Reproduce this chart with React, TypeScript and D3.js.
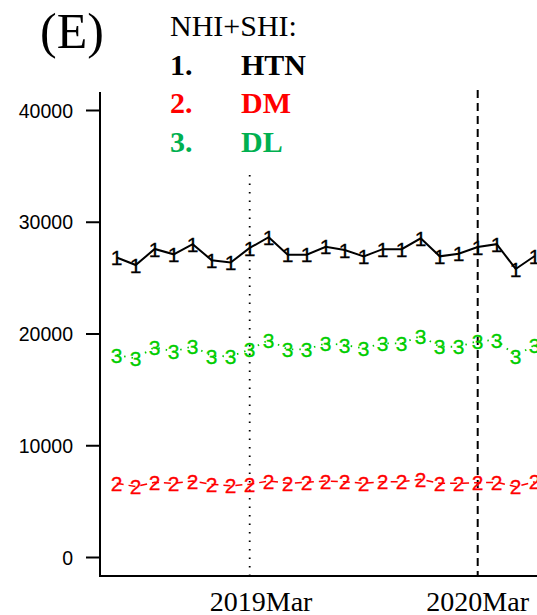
import React from "react";
import * as d3 from "d3";

// ---- data (monthly counts, first month = 2018 Aug) ----
const months = [
  "2018Aug","2018Sep","2018Oct","2018Nov","2018Dec","2019Jan","2019Feb","2019Mar",
  "2019Apr","2019May","2019Jun","2019Jul","2019Aug","2019Sep","2019Oct","2019Nov",
  "2019Dec","2020Jan","2020Feb","2020Mar","2020Apr","2020May","2020Jun",
];
const htn = [26850, 26170, 27610, 27130, 28040, 26600, 26400, 27700, 28660, 27100, 27100, 27810,
  27520, 26950, 27590, 27590, 28560, 26950, 27180, 27790, 28040, 25820, 26980];
const dm = [6640, 6340, 6730, 6640, 6850, 6550, 6420, 6550, 6850, 6640, 6730, 6850,
  6780, 6640, 6780, 6780, 7000, 6640, 6640, 6690, 6730, 6340, 6780];
const dl = [18120, 17830, 18820, 18430, 18900, 18030, 18000, 18600, 19460, 18630, 18630, 19170,
  19020, 18720, 19170, 19170, 19820, 18860, 18860, 19370, 19460, 18030, 19020];

const yTicks = [0, 10000, 20000, 30000, 40000];
const xLabels = ["2019Mar", "2020Mar"];
const xLabelPos = [7.6, 19];
const vLines = [7, 19]; // 2019Mar (dotted), 2020Mar (dashed)

const legendTitle = "NHI+SHI:";
const legendNums = ["1.", "2.", "3."];
const legendNames = ["HTN", "DM", "DL"];
const panelLabel = "(E)";

export default function App() {
  const W = 537, H = 615;
  const axisX = 100;
  const axisY = 576;
  const plotTop = 90;

  const x = d3.scaleLinear().domain([0, 1]).range([116.7, 135.7]);
  const y = d3.scaleLinear().domain([0, 40000]).range([557.5, 110.5]);

  const idx = months.map((_, i) => i);
  const mk = (vals: number[]) =>
    d3.line<number>().x((i) => x(i)).y((i) => y(vals[i]))(idx) || "";

  const series = [
    { vals: htn, color: "#000000", dash: undefined as string | undefined, pch: "1", w: 2 },
    { vals: dm, color: "#FF0000", dash: "7,5", pch: "2", w: 1.5 },
    { vals: dl, color: "#00CD00", dash: "1.5,6", pch: "3", w: 1.8 },
  ];
  const legendColors = ["#000000", "#FF0000", "#00B050"];
  const markFont = 21;
  const sans = "'Liberation Sans', Arial, Helvetica, sans-serif";
  const serif = "'Liberation Serif', 'Times New Roman', serif";

  return (
    <svg width={W} height={H} style={{ position: "absolute", left: 0, top: 0, background: "#fff" }}>
      {/* vertical reference lines */}
      {vLines.map((v, k) => (
        <line key={"v" + k} x1={x(v)} x2={x(v)} y1={plotTop} y2={axisY}
          stroke="#000" strokeWidth={k === 0 ? 1.8 : 2}
          strokeDasharray={k === 0 ? "1.5,7" : "8,5"} />
      ))}

      {/* series */}
      {series.map((s, k) => (
        <g key={"s" + k}>
          <path d={mk(s.vals)} fill="none" stroke={s.color} strokeWidth={s.w}
            strokeDasharray={s.dash} />
          {s.vals.map((v, i) => (
            <text key={i} x={x(i)} y={y(v) + markFont * 0.36} textAnchor="middle"
              fontFamily={sans} fontSize={markFont} fill={s.color}
              stroke={s.color} strokeWidth={0.3}>{s.pch}</text>
          ))}
        </g>
      ))}

      {/* legend with white background */}
      <rect x={160} y={0} width={160} height={168} fill="#fff" />
      <text x={170} y={36} fontFamily={serif} fontSize={30} fill="#000">{legendTitle}</text>
      {legendNums.map((n, k) => (
        <g key={"l" + k} fontFamily={serif} fontSize={30} fontWeight="bold" fill={legendColors[k]}>
          <text x={170} y={75 + k * 38.3}>{n}</text>
          <text x={241} y={75 + k * 38.3}>{legendNames[k]}</text>
        </g>
      ))}

      {/* panel label */}
      <text x={40} y={48} fontFamily={serif} fontSize={50} fill="#000">{panelLabel}</text>

      {/* axes */}
      <line x1={axisX} x2={axisX} y1={92} y2={axisY + 1} stroke="#000" strokeWidth={2} />
      <line x1={axisX - 1} x2={W + 5} y1={axisY} y2={axisY} stroke="#000" strokeWidth={2} />
      {yTicks.map((t) => (
        <g key={"t" + t}>
          <line x1={86} x2={axisX} y1={y(t)} y2={y(t)} stroke="#000" strokeWidth={2} />
          <text x={73} y={y(t) + 7} textAnchor="end" fontFamily={sans} fontSize={19.5} fill="#000">{t}</text>
        </g>
      ))}
      {xLabels.map((l, k) => (
        <text key={"x" + k} x={x(xLabelPos[k])} y={611} textAnchor="middle"
          fontFamily={serif} fontSize={28} fill="#000">{l}</text>
      ))}
    </svg>
  );
}
